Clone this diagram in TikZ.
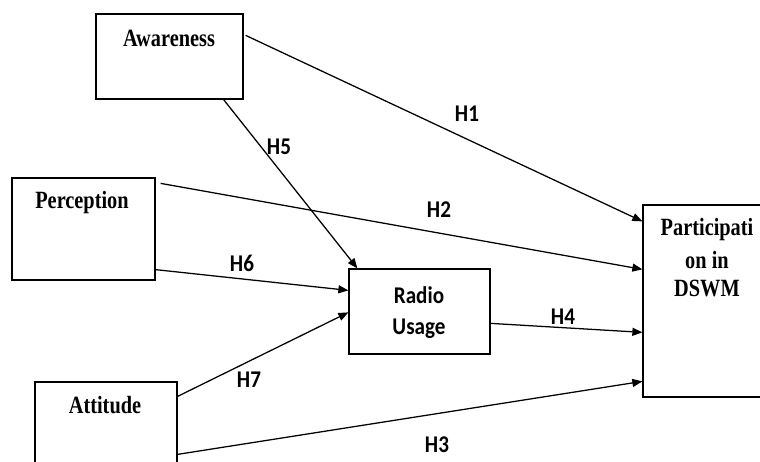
\documentclass[tikz,border=0pt]{standalone}
\usepackage{fontspec}
\usetikzlibrary{calc,arrows.meta}
\newfontfamily\boxserif{Liberation Serif}[FakeStretch=0.82]
\newfontfamily\labsans{Carlito}[FakeStretch=0.88]
\begin{document}
\begin{tikzpicture}[x=0.75pt,y=-0.75pt,
  box/.style={draw, line width=0.95pt, inner sep=0pt},
  btext/.style={font=\boxserif\bfseries\fontsize{18.6}{21.75}\selectfont, inner sep=0pt},
  stext/.style={font=\labsans\bfseries\fontsize{18}{20}\selectfont, inner sep=0pt},
  hyp/.style={font=\labsans\bfseries\fontsize{18}{20}\selectfont, inner sep=0pt},
  link/.style={line width=0.95pt, -{Triangle[length=7.5pt,width=6pt]}}]
\useasboundingbox (0,0) rectangle (760,461);
\fill[white] (0,0) rectangle (760,461);
% boxes
\node[box, minimum width=147*0.75pt, minimum height=85*0.75pt] (aw) at (169.5,56.5) {};
\node[box, minimum width=143*0.75pt, minimum height=102*0.75pt] (pe) at (83.5,229) {};
\node[box, minimum width=142*0.75pt, minimum height=120*0.75pt] (at) at (106,442) {};
\node[box, minimum width=141*0.75pt, minimum height=85*0.75pt] (ra) at (419.5,311.5) {};
\node[box, minimum width=128*0.75pt, minimum height=192*0.75pt] (pa) at (707,301) {};
% box texts
\node[btext] (awt) at (169,38) {Awareness};
\node[btext] (pet) at (82,203) {Perception};
\node[btext] (att) at (105,405) {Attitude};
\node[stext] (rat1) at (419,295) {Radio};
\node[stext] (rat2) at (419,329) {Usage};
\node[btext] (pat1) at (707,230) {Participati};
\node[btext] (pat2) at (707,260) {on in};
\node[btext] (pat3) at (707,288) {DSWM};
% connectors
\draw[link] ($(aw.north east)+(2,22)$) -- ($(pa.north west)+(0,17)$);
\draw[link] ($(aw.south east)+(-20,0)$) -- ($(ra.north west)+(9,0)$);
\draw[link] ($(pe.north east)+(5,6)$) -- ($(pa.north west)+(0,65)$);
\draw[link] ($(pe.south east)+(0,-11)$) -- ($(ra.north west)+(0,22)$);
\draw[link] ($(at.north east)+(0,15)$) -- ($(ra.north west)+(0,44)$);
\draw[link] ($(ra.north east)+(0,55)$) -- ($(pa.north west)+(0,128)$);
\draw[link] ($(at.north east)+(0,73)$) -- ($(pa.north west)+(0,177)$);
% hypothesis labels
\node[hyp] (h1) at (467,114) {H1};
\node[hyp] (h5) at (279,147) {H5};
\node[hyp] (h2) at (439,210) {H2};
\node[hyp] (h6) at (242,263) {H6};
\node[hyp] (h7) at (249,380) {H7};
\node[hyp] (h4) at (563,317) {H4};
\node[hyp] (h3) at (437,445) {H3};
\end{tikzpicture}
\end{document}
